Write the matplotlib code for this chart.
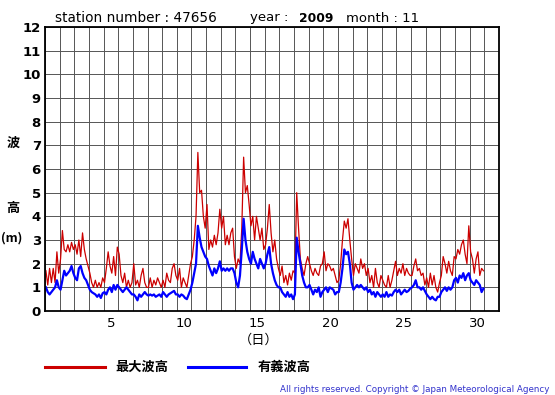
import numpy as np
import matplotlib
matplotlib.use("Agg")
import matplotlib.pyplot as plt

# wave height (m), 3-hourly readings, 8 per day, 1-30 Nov 2009
max_wave = [
    1.7, 1.1, 1.8, 1.2, 1.8, 1.2, 2.5, 1.6,   # 1
    2.2, 3.4, 2.6, 2.5, 2.8, 2.5, 2.9, 2.6,   # 2
    2.8, 2.4, 3.0, 2.3, 3.3, 2.6, 2.2, 1.9,   # 3
    1.6, 1.2, 1.0, 1.3, 1.0, 1.2, 1.0, 1.4,   # 4
    1.2, 1.8, 2.5, 1.9, 1.6, 2.3, 1.5, 2.7,   # 5
    2.4, 1.5, 1.2, 1.6, 1.0, 1.3, 1.0, 1.2,   # 6
    2.0, 1.1, 1.3, 1.0, 1.5, 1.8, 1.2, 1.0,   # 7
    1.0, 1.4, 1.0, 1.3, 1.1, 1.4, 1.2, 1.0,   # 8
    1.3, 1.0, 1.6, 1.3, 1.2, 1.8, 2.0, 1.5,   # 9
    1.3, 1.8, 1.0, 1.4, 1.2, 1.0, 1.5, 2.0,   # 10
    2.3, 3.0, 4.0, 6.7, 5.0, 5.1, 4.0, 3.5,   # 11
    4.5, 2.6, 3.0, 2.7, 3.2, 2.8, 3.3, 4.3,   # 12
    3.5, 4.0, 2.8, 3.2, 2.8, 3.3, 3.5, 2.3,   # 13
    1.8, 2.2, 2.0, 3.5, 6.5, 5.0, 5.3, 4.5,   # 14
    3.6, 4.0, 3.0, 4.0, 3.5, 3.0, 3.5, 2.6,   # 15
    2.8, 3.5, 4.5, 3.3, 2.5, 3.0, 2.2, 1.8,   # 16
    1.5, 1.9, 1.2, 1.5, 1.1, 1.6, 1.3, 1.7,   # 17
    1.6, 5.0, 3.5, 2.2, 1.8, 1.5, 2.0, 2.3,   # 18
    2.0, 1.7, 1.5, 1.8, 1.6, 1.5, 1.9, 2.0,   # 19
    2.5, 1.7, 2.0, 1.9, 1.7, 1.8, 1.5, 1.2,   # 20
    1.3, 2.0, 3.0, 3.8, 3.5, 3.9, 3.0, 2.2,   # 21
    1.5, 2.0, 1.8, 1.6, 2.2, 1.8, 2.0, 1.5,   # 22
    1.8, 1.2, 1.5, 1.0, 1.8, 1.2, 1.0, 1.5,   # 23
    1.3, 1.1, 1.0, 1.5, 1.0, 1.3, 1.7, 2.1,   # 24
    1.5, 1.8, 1.6, 2.0, 1.5, 1.8, 1.6, 1.5,   # 25
    1.5, 1.9, 2.2, 1.7, 1.8, 1.5, 1.6, 1.1,   # 26
    1.4, 1.0, 1.6, 1.1, 1.5, 1.0, 0.8, 1.2,   # 27
    1.5, 2.3, 2.0, 1.6, 2.1, 1.7, 1.5, 2.3,   # 28
    2.2, 2.6, 2.4, 2.8, 3.0, 2.4, 2.0, 3.6,   # 29
    2.5, 2.2, 1.6, 2.2, 2.5, 1.5, 1.8, 1.7,   # 30
]
sig_wave = [
    1.0, 0.8, 0.7, 0.8, 0.9, 1.0, 1.3, 1.0,
    0.9, 1.3, 1.7, 1.5, 1.6, 1.7, 1.9, 1.6,
    1.4, 1.3, 1.8, 1.9, 1.6, 1.4, 1.3, 1.1,
    0.9, 0.8, 0.75, 0.7, 0.6, 0.7, 0.55, 0.75,
    0.8, 0.7, 0.9, 1.0, 0.8, 1.1, 0.9, 1.1,
    1.0, 0.9, 0.8, 0.9, 1.0, 0.9, 0.8, 0.7,
    0.7, 0.6, 0.45, 0.7, 0.6, 0.7, 0.8, 0.7,
    0.65, 0.7, 0.65, 0.7, 0.6, 0.65, 0.7, 0.6,
    0.8, 0.7, 0.6, 0.7, 0.75, 0.8, 0.85, 0.7,
    0.7, 0.6, 0.7, 0.65, 0.55, 0.5, 0.7, 0.9,
    1.2, 1.6, 2.0, 3.6, 3.1, 2.7, 2.5, 2.3,
    2.2, 1.9, 1.7, 1.5, 1.8, 1.6, 1.8, 2.1,
    1.7, 1.8, 1.7, 1.8, 1.7, 1.8, 1.8, 1.6,
    1.2, 1.0, 1.5, 2.6, 3.9, 3.0, 2.5, 2.2,
    2.0, 2.5, 2.2, 2.0, 1.8, 2.2, 2.0, 1.8,
    2.0, 2.4, 2.7, 2.0, 1.6, 1.3, 1.1, 1.0,
    1.0, 0.8, 0.7, 0.6, 0.8, 0.6, 0.7, 0.5,
    0.7, 3.1, 2.5, 2.0, 1.5, 1.2, 1.0, 1.0,
    1.1, 0.9, 0.7, 0.9, 0.8, 1.0, 0.6, 0.8,
    0.9, 1.0, 0.8, 1.0, 0.95, 0.9, 0.7, 0.8,
    0.8, 1.2, 1.8, 2.6, 2.4, 2.5, 2.0, 1.2,
    0.9, 1.0, 1.1, 1.0, 1.1, 1.0, 0.9, 1.0,
    0.8, 0.9, 0.7, 0.8, 0.6, 0.8, 0.7, 0.6,
    0.7, 0.6, 0.8, 0.6, 0.7, 0.65, 0.8, 0.9,
    0.8, 0.9, 0.7, 0.8, 0.9, 0.8, 0.85, 0.95,
    1.0, 1.1, 1.3, 1.0, 1.0, 0.9, 1.0, 0.85,
    0.7, 0.6, 0.5, 0.6, 0.5, 0.45, 0.6, 0.6,
    0.8, 0.9, 1.0, 0.85, 1.0, 0.9, 1.0, 1.3,
    1.4, 1.2, 1.5, 1.4, 1.6, 1.3, 1.5, 1.6,
    1.3, 1.2, 1.1, 1.3, 1.2, 1.1, 0.8, 0.95,
]
day_labels = [5, 10, 15, 20, 25, 30]
height_ticks = list(range(0, 13))

W, H = 555, 395
jp = ['Noto Sans CJK JP', 'DejaVu Sans']

# time in days since 1 Nov 00:00
t = (np.arange(len(max_wave)) + 0.5) / 8

fig = plt.figure(figsize=(W / 100, H / 100), dpi=100)
ax = fig.add_axes([45 / W, 1 - 311 / H, (499 - 45) / W, (311 - 27) / H])

ax.plot(t, max_wave, color='#cc0000', lw=0.9)
ax.plot(t, sig_wave, color='#0000ff', lw=1.6)

ax.set_xlim(0, 31)
ax.set_ylim(0, 12)
ax.set_xticks(np.arange(32), minor=True)
ax.set_xticks([d - 0.5 for d in day_labels])
ax.set_xticklabels([str(d) for d in day_labels], fontsize=9.5)
ax.set_yticks(height_ticks)
ax.set_yticklabels([str(v) for v in height_ticks], fontsize=9.5, fontweight='bold')
ax.tick_params(which='both', length=0)
ax.tick_params(axis='x', pad=4)
ax.tick_params(axis='y', pad=3)
ax.grid(which='minor', axis='x', color='#555555', lw=0.7)
ax.grid(which='major', axis='y', color='#555555', lw=0.7)
ax.set_axisbelow(True)
for s in ax.spines.values():
    s.set_linewidth(1.3)


def pt(x, y):
    return x / W, 1 - y / H


fig.text(*pt(55, 18), 'station number : 47656', fontsize=9.8, va='center')
fig.text(*pt(250, 18), 'year : ', fontsize=9.5, va='center')
fig.text(*pt(299, 18), '2009', fontsize=8.8, va='center', fontweight='bold')
fig.text(*pt(346, 18), 'month : 11', fontsize=9.5, va='center')

fig.text(*pt(13, 143), '波', family=jp, fontsize=9.5, fontweight='bold', ha='center', va='center')
fig.text(*pt(13, 208), '高', family=jp, fontsize=9.5, fontweight='bold', ha='center', va='center')
fig.text(*pt(1, 238), '(m)', family=jp, fontsize=9, fontweight='bold', ha='left', va='center')
fig.text(*pt(259, 340), '（日）', family=jp, fontsize=9.5, ha='center', va='center')

# legend
fig.add_artist(plt.Line2D([45 / W, 105 / W], [1 - 367 / H] * 2, color='#cc0000', lw=2.2))
fig.text(*pt(115, 367), '最大波高', family=jp, fontsize=9.5, fontweight='bold', va='center')
fig.add_artist(plt.Line2D([188 / W, 246 / W], [1 - 367 / H] * 2, color='#0000ff', lw=2.2))
fig.text(*pt(258, 367), '有義波高', family=jp, fontsize=9.5, fontweight='bold', va='center')

fig.text(*pt(549, 390), 'All rights reserved. Copyright \u00a9 Japan Meteorological Agency',
         fontsize=6.3, color='#3333cc', ha='right', va='center')

fig.savefig('out.png', dpi=100)
